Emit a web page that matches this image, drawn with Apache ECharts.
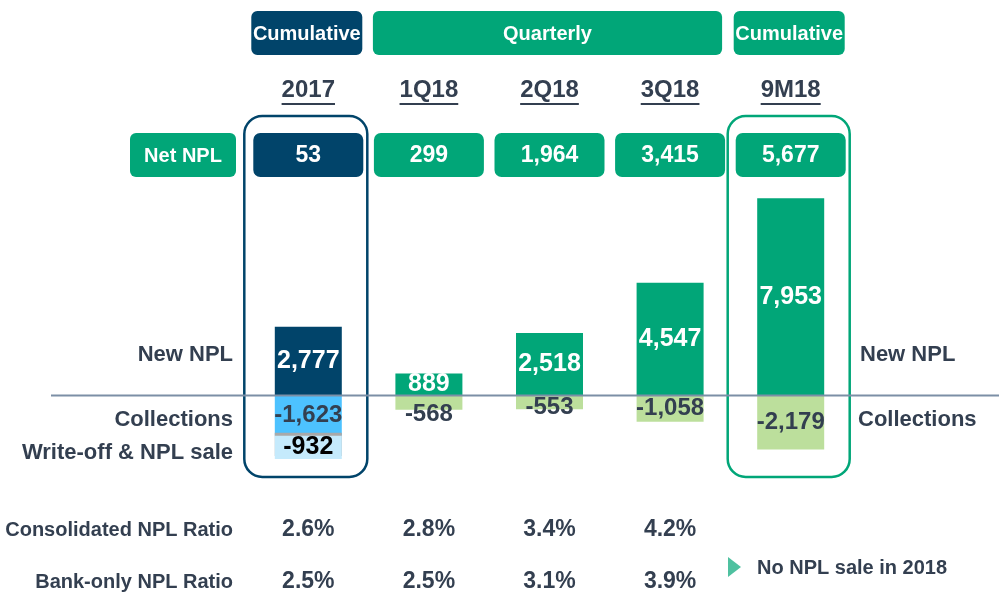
<!DOCTYPE html>
<html>
<head>
<meta charset="utf-8">
<script src="https://cdn.jsdelivr.net/npm/echarts@6/dist/echarts.min.js"></script>
<style>
  html, body { margin: 0; padding: 0; background: #fff; }
  #main { width: 999px; height: 594px; }
</style>
</head>
<body>
<div id="main"></div>
<script>
// data
var categories = ['2017', '1Q18', '2Q18', '3Q18', '9M18'];
var netNpl = [53, 299, 1964, 3415, 5677];
var newNpl = [2777, 889, 2518, 4547, 7953];
var collections = [-1623, -568, -553, -1058, -2179];
var writeOff = [-932, null, null, null, null];
var ratioRows = ['Consolidated NPL Ratio', 'Bank-only NPL Ratio'];
var consolidatedRatio = [2.6, 2.8, 3.4, 4.2];
var bankOnlyRatio = [2.5, 2.5, 3.1, 3.9];

var NAVY = '#01446a';
var GREEN = '#01a678';
var TEXT = '#333f50';
var FONT = "'Liberation Sans', Arial, sans-serif";

function fmt(v) {
  return Math.round(v).toLocaleString('en-US');
}

var chart = echarts.init(document.getElementById('main'));

var option = {
  animation: false,
  textStyle: { fontFamily: FONT },
  grid: [
    { left: 248, width: 603, top: 197, height: 273, outerBoundsMode: 'none' },   // bars
    { left: 248, width: 603, top: 133, height: 44, outerBoundsMode: 'none' },    // Net NPL row
    { left: 248, width: 603, top: 504, height: 104, outerBoundsMode: 'none' }    // ratio rows
  ],
  xAxis: [
    {
      type: 'category', gridIndex: 0, data: categories, position: 'top',
      axisLine: { show: false }, axisTick: { show: false },
      axisLabel: { margin: 95, color: TEXT, fontSize: 24, fontWeight: 'bold', fontFamily: FONT }
    },
    { type: 'category', gridIndex: 1, data: categories, show: false },
    { type: 'category', gridIndex: 2, data: categories, show: false }
  ],
  yAxis: [
    { type: 'value', gridIndex: 0, min: -3000, max: 8000, show: false },
    { type: 'value', gridIndex: 1, min: 0, max: 6000, show: false },
    {
      type: 'category', gridIndex: 2, data: ratioRows, inverse: true,
      axisLine: { show: false }, axisTick: { show: false },
      axisLabel: { margin: 15, color: TEXT, fontSize: 20, fontWeight: 'bold', fontFamily: FONT }
    }
  ],
  series: [
    {
      name: 'New NPL', type: 'bar', stack: 'npl', barWidth: 67,
      xAxisIndex: 0, yAxisIndex: 0,
      data: newNpl.map(function (v, i) {
        return { value: v, itemStyle: { color: i === 0 ? NAVY : GREEN } };
      }),
      label: {
        show: true, position: 'inside', color: '#fff', fontSize: 25, fontWeight: 'bold',
        fontFamily: FONT, formatter: function (p) { return fmt(p.value); }
      }
    },
    {
      name: 'Collections', type: 'bar', stack: 'npl', barWidth: 67,
      xAxisIndex: 0, yAxisIndex: 0,
      data: collections.map(function (v, i) {
        var item = { value: v, itemStyle: { color: i === 0 ? '#4dc2ff' : '#bcdf9c' } };
        if (i === 1) item.label = { offset: [0, 12] };
        if (i === 2) item.label = { offset: [0, 5] };
        return item;
      }),
      label: {
        show: true, position: 'inside', color: TEXT, fontSize: 24, fontWeight: 'bold',
        fontFamily: FONT, formatter: function (p) { return fmt(p.value); }
      }
    },
    {
      name: 'Write-off & NPL sale', type: 'bar', stack: 'npl', barWidth: 67,
      xAxisIndex: 0, yAxisIndex: 0,
      data: writeOff,
      itemStyle: { color: '#c5eafc', shadowColor: '#a9a9a9', shadowOffsetY: -3, shadowBlur: 0 },
      label: {
        show: true, position: 'inside', color: '#000', fontSize: 25, fontWeight: 'bold',
        fontFamily: FONT, formatter: function (p) { return fmt(p.value); }
      }
    },
    {
      name: 'Net NPL', type: 'custom', xAxisIndex: 1, yAxisIndex: 1,
      data: netNpl.map(function (v, i) { return [i, v]; }),
      encode: { x: 0, y: 1 },
      renderItem: function (params, api) {
        var x = api.coord([api.value(0), 0])[0];
        var cs = params.coordSys;
        return {
          type: 'group',
          children: [
            { type: 'rect', shape: { x: x - 55, y: cs.y, width: 110, height: cs.height, r: 7 },
              style: { fill: params.dataIndex === 0 ? NAVY : GREEN } },
            { type: 'text', x: x, y: cs.y + cs.height / 2 + 1,
              style: { text: fmt(api.value(1)), fill: '#fff', align: 'center', verticalAlign: 'middle',
                       font: 'bold 23px ' + FONT } }
          ]
        };
      }
    },
    {
      name: ratioRows[0], type: 'custom', xAxisIndex: 2, yAxisIndex: 2,
      data: consolidatedRatio.map(function (v, i) { return [i, 0, v]; }),
      encode: { x: 0, y: 1 },
      renderItem: ratioText
    },
    {
      name: ratioRows[1], type: 'custom', xAxisIndex: 2, yAxisIndex: 2,
      data: bankOnlyRatio.map(function (v, i) { return [i, 1, v]; }),
      encode: { x: 0, y: 1 },
      renderItem: ratioText
    }
  ]
};

function ratioText(params, api) {
  var pt = api.coord([api.value(0), api.value(1)]);
  return {
    type: 'text', x: pt[0], y: pt[1],
    style: { text: api.value(2).toFixed(1) + '%', fill: TEXT, align: 'center', verticalAlign: 'middle',
             font: 'bold 23px ' + FONT }
  };
}

chart.setOption(option);

// decorations placed from the axes
var cx = categories.map(function (c) { return chart.convertToPixel({ xAxisIndex: 0 }, c); });
var zeroY = chart.convertToPixel({ yAxisIndex: 0 }, 0);

var measure = document.createElement('canvas').getContext('2d');
measure.font = 'bold 24px ' + FONT;

var g = [];
function box(x, y, w, h, fill, text, size) {
  g.push({ type: 'rect', shape: { x: x, y: y, width: w, height: h, r: 6 }, style: { fill: fill }, z: 10 });
  g.push({ type: 'text', x: x + w / 2, y: y + h / 2 + 1, z: 11,
           style: { text: text, fill: '#fff', align: 'center', verticalAlign: 'middle', font: 'bold ' + size + 'px ' + FONT } });
}
function label(x, y, text, align, size, color) {
  g.push({ type: 'text', x: x, y: y, z: 11,
           style: { text: text, fill: color || TEXT, align: align, verticalAlign: 'middle', font: 'bold ' + size + 'px ' + FONT } });
}

// header boxes
box(cx[0] - 57, 11, 111, 44, NAVY, 'Cumulative', 20);
box(cx[1] - 56, 11, cx[3] - cx[1] + 108, 44, GREEN, 'Quarterly', 20);
box(cx[4] - 57, 11, 111, 44, GREEN, 'Cumulative', 20);

// underline of period labels
categories.forEach(function (c, i) {
  var w = measure.measureText(c).width;
  g.push({ type: 'line', z: 11, shape: { x1: cx[i] - w / 2, y1: 104, x2: cx[i] + w / 2, y2: 104 },
           style: { stroke: TEXT, lineWidth: 2 } });
});

// Net NPL row name
box(130, 133, 106, 44, GREEN, 'Net NPL', 20);

// column outlines
g.push({ type: 'rect', z: 12, shape: { x: cx[0] - 64, y: 116, width: 123, height: 361, r: 18 },
         style: { fill: 'none', stroke: NAVY, lineWidth: 2.5 } });
g.push({ type: 'rect', z: 12, shape: { x: cx[4] - 63, y: 116, width: 122, height: 361, r: 18 },
         style: { fill: 'none', stroke: GREEN, lineWidth: 2.5 } });

// zero line
g.push({ type: 'line', z: 12, shape: { x1: 51, y1: zeroY, x2: 999, y2: zeroY },
         style: { stroke: '#7c8fa6', lineWidth: 2 } });

// row names
label(233, 355, 'New NPL', 'right', 22);
label(233, 420, 'Collections', 'right', 22);
label(233, 453, 'Write-off & NPL sale', 'right', 22);
label(860, 355, 'New NPL', 'left', 22);
label(858, 420, 'Collections', 'left', 22);

// note
g.push({ type: 'polygon', z: 11, shape: { points: [[728, 557], [741, 567], [728, 577]] }, style: { fill: '#4fc1a0' } });
label(757, 568, 'No NPL sale in 2018', 'left', 20);

chart.setOption({ graphic: g });
</script>
</body>
</html>
